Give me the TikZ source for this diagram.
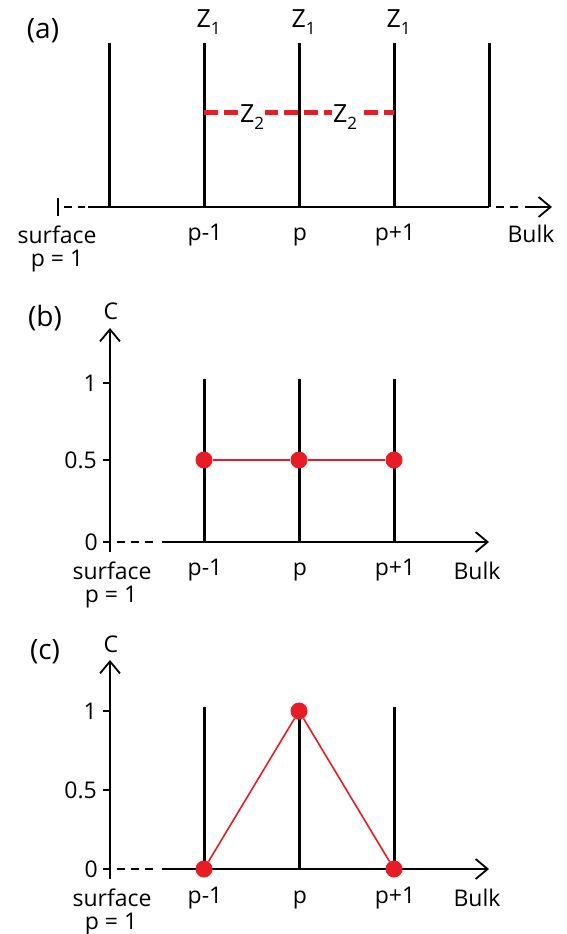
\documentclass[tikz,border=0pt]{standalone}
\usepackage{fontspec}
\setmainfont{Open Sans}
\usetikzlibrary{arrows.meta}
\definecolor{dotred}{RGB}{232,28,36}
\newcommand\mysub[1]{\raisebox{-7pt}{\fontsize{17pt}{17pt}\selectfont #1}}
\tikzset{
 lbl/.style={font=\fontsize{23pt}{23pt}\selectfont, inner sep=0pt},
 plbl/.style={font=\fontsize{28pt}{28pt}\selectfont, inner sep=0pt},
 zlbl/.style={font=\fontsize{25pt}{25pt}\selectfont, inner sep=0pt},
 rod/.style={line width=3pt},
 axisline/.style={line width=1.8pt},
 axisarrow/.style={line width=1.8pt, -{Straight Barb[length=12pt,width=20pt]}},
 axisdash/.style={line width=1.8pt, dash pattern=on 8pt off 6pt},
 redbond/.style={draw=dotred, line width=5pt, dash pattern=on 14pt off 6pt},
 redlink/.style={draw=dotred, line width=1.6pt},
 reddot/.style={circle, fill=dotred, minimum size=17pt, inner sep=0pt},
}
\begin{document}
\begin{tikzpicture}[x=1pt,y=-1pt]
\useasboundingbox (0,0) rectangle (567,934);
% ================= panel (a)
\node[plbl] (la) at (43,31) {(a)};
\coordinate (aTickT) at (58,198);
\coordinate (aTickB) at (58,216);
\coordinate (aD1) at (64,207);
\coordinate (aD2) at (85,207);
\coordinate (aS) at (88,207);
\coordinate (aE) at (489,207);
\coordinate (aD3) at (496,207);
\coordinate (aD4) at (520,207);
\coordinate (aD5) at (525,207);
\coordinate (aT) at (552,207);
\draw[axisline] (aTickT) -- (aTickB);
\draw[axisdash] (aD1) -- (aD2);
\draw[axisline] (aS) -- (aE);
\draw[axisdash] (aD3) -- (aD4);
\draw[axisarrow] (aD5) -- (aT);
\foreach \i/\x in {1/109,2/204,3/299,4/394,5/489}{
  \coordinate (ar\i t) at (\x,43);
  \coordinate (ar\i b) at (\x,207);
  \draw[rod] (ar\i t) -- (ar\i b);
}
\foreach \i/\x in {2/204,3/299,4/394}{
  \node[zlbl, anchor=base west] (z1\i) at (\x-7.5,28) {Z\mysub{1}};
}
\coordinate (bondL) at (204,112);
\coordinate (bondR) at (394,112);
\draw[redbond] (bondL) -- (bondR);
\node[zlbl, anchor=base west, fill=white, inner sep=1pt] (z2a) at (239,122) {Z\mysub{2}};
\node[zlbl, anchor=base west, fill=white, inner sep=1pt] (z2b) at (332,122) {Z\mysub{2}};
\node[lbl, anchor=base] (asurf) at (57,243) {surface};
\node[lbl, anchor=base] (ap1) at (57,266) {p = 1};
\node[lbl, anchor=base] (apm) at (205,240) {p-1};
\node[lbl, anchor=base] (ap) at (300,240) {p};
\node[lbl, anchor=base] (app) at (395,240) {p+1};
\node[lbl, anchor=base] (abulk) at (531,242) {Bulk};
% ================= panel (b)
\node[plbl] (lb) at (45,318) {(b)};
\node[lbl] (bC) at (111,311) {C};
\coordinate (bYb) at (110,552);
\coordinate (bYt) at (110,328);
\draw[axisarrow] (bYb) -- (bYt);
\coordinate (bO) at (110,542);
\coordinate (bTk0) at (103,542);
\coordinate (bDs) at (117,542);
\coordinate (bDe) at (158,542);
\coordinate (bS) at (162,542);
\coordinate (bT) at (489,542);
\draw[axisline] (bTk0) -- (bO);
\draw[axisdash] (bDs) -- (bDe);
\draw[axisarrow] (bS) -- (bT);
\foreach \n/\y in {one/383,half/460}{
  \coordinate (bTk\n) at (103,\y);
  \coordinate (bAx\n) at (110,\y);
  \draw[axisline] (bTk\n) -- (bAx\n);
}
\node[lbl, anchor=east] (bl1) at (97,383) {1};
\node[lbl, anchor=east] (bl05) at (97,460) {0.5};
\node[lbl, anchor=east] (bl0) at (98,542) {0};
\foreach \i/\x in {1/204,2/299,3/394}{
  \coordinate (br\i t) at (\x,379);
  \coordinate (br\i b) at (\x,542);
  \draw[rod] (br\i t) -- (br\i b);
}
\node[reddot] (bd1) at (204,460) {};
\node[reddot] (bd2) at (299,460) {};
\node[reddot] (bd3) at (394,460) {};
\draw[redlink] (bd1) -- (bd2) -- (bd3);
\node[lbl, anchor=base] (bsurf) at (112,579) {surface};
\node[lbl, anchor=base] (bp1) at (111,602) {p = 1};
\node[lbl, anchor=base] (bpm) at (205,575) {p-1};
\node[lbl, anchor=base] (bp) at (300,575) {p};
\node[lbl, anchor=base] (bpp) at (395,575) {p+1};
\node[lbl, anchor=base] (bbulk) at (477,579) {Bulk};
% ================= panel (c)
\node[plbl] (lc) at (45,652) {(c)};
\node[lbl] (cC) at (111,644) {C};
\coordinate (cYb) at (110,879);
\coordinate (cYt) at (110,660);
\draw[axisarrow] (cYb) -- (cYt);
\coordinate (cO) at (110,869);
\coordinate (cTk0) at (103,869);
\coordinate (cDs) at (117,869);
\coordinate (cDe) at (158,869);
\coordinate (cS) at (162,869);
\coordinate (cT) at (489,869);
\draw[axisline] (cTk0) -- (cO);
\draw[axisdash] (cDs) -- (cDe);
\draw[axisarrow] (cS) -- (cT);
\foreach \n/\y in {one/711,half/790}{
  \coordinate (cTk\n) at (103,\y);
  \coordinate (cAx\n) at (110,\y);
  \draw[axisline] (cTk\n) -- (cAx\n);
}
\node[lbl, anchor=east] (cl1) at (97,711) {1};
\node[lbl, anchor=east] (cl05) at (97,790) {0.5};
\node[lbl, anchor=east] (cl0) at (98,869) {0};
\coordinate (cr1t) at (204,707);
\coordinate (cr1b) at (204,869);
\coordinate (cr2t) at (299,711);
\coordinate (cr2b) at (299,869);
\coordinate (cr3t) at (394,707);
\coordinate (cr3b) at (394,869);
\draw[rod] (cr1t) -- (cr1b);
\draw[rod] (cr2t) -- (cr2b);
\draw[rod] (cr3t) -- (cr3b);
\node[reddot] (cd1) at (204,869) {};
\node[reddot] (cd2) at (299,711) {};
\node[reddot] (cd3) at (394,869) {};
\draw[redlink] (cd1) -- (cd2) -- (cd3);
\node[lbl, anchor=base] (csurf) at (112,906) {surface};
\node[lbl, anchor=base] (cp1) at (111,929) {p = 1};
\node[lbl, anchor=base] (cpm) at (205,903) {p-1};
\node[lbl, anchor=base] (cp) at (300,903) {p};
\node[lbl, anchor=base] (cpp) at (395,903) {p+1};
\node[lbl, anchor=base] (cbulk) at (477,906) {Bulk};
\end{tikzpicture}
\end{document}
